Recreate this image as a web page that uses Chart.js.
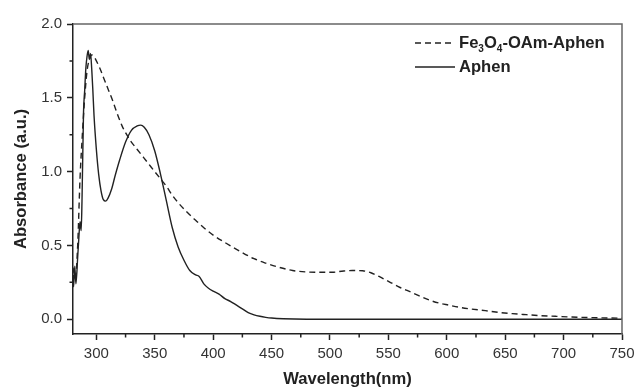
<!DOCTYPE html>
<html>
<head>
<meta charset="utf-8">
<script src="https://cdn.jsdelivr.net/npm/chart.js@4.4.0/dist/chart.umd.min.js"></script>
<style>
  body { margin: 0; background: #fff; }
  canvas { display: block; }
</style>
</head>
<body>
<canvas id="chart" width="634" height="389"></canvas>
<script>
// values (wavelength nm, absorbance a.u.)
const aphenX = [280, 280.5, 281.5, 282.5, 284, 285, 286, 287, 287.7, 289, 290, 291, 292, 293, 294, 295, 296, 297, 298, 300, 302, 304, 306, 308, 310, 313, 316, 320, 325, 330, 335, 338, 341, 345, 350, 355, 360, 365, 370, 375, 380, 385, 388, 392, 396, 400, 405, 410, 415, 420, 425, 430, 435, 440, 445, 450, 460, 480, 750];
const aphenY = [0.3, 0.22, 0.36, 0.24, 0.42, 0.55, 0.66, 0.6, 0.8, 1.4, 1.55, 1.7, 1.78, 1.82, 1.76, 1.8, 1.7, 1.55, 1.38, 1.15, 0.98, 0.87, 0.81, 0.8, 0.82, 0.88, 0.97, 1.08, 1.2, 1.28, 1.31, 1.315, 1.3, 1.25, 1.14, 0.98, 0.8, 0.62, 0.49, 0.4, 0.33, 0.3, 0.29, 0.24, 0.21, 0.19, 0.17, 0.14, 0.12, 0.095, 0.07, 0.045, 0.03, 0.02, 0.013, 0.008, 0.003, 0, 0];

const feX = [280, 282, 284, 286, 288, 290, 292, 294, 296, 298, 300, 303, 306, 310, 314, 318, 322, 326, 330, 335, 340, 345, 350, 355, 360, 365, 370, 377, 385, 392, 400, 410, 423, 435, 445, 455, 468, 480, 491, 502, 510, 519, 528, 535, 542, 548, 554, 560, 566, 576, 585, 593, 602, 610, 620, 633, 645, 656, 668, 679, 693, 707, 725, 741, 750];
const feY = [0.35, 0.28, 0.5, 0.95, 1.25, 1.5, 1.68, 1.76, 1.79, 1.78, 1.75, 1.7, 1.64, 1.56, 1.48, 1.39, 1.31, 1.25, 1.2, 1.15, 1.1, 1.05, 1.0, 0.95, 0.9, 0.84, 0.79, 0.73, 0.67, 0.62, 0.57, 0.52, 0.46, 0.41, 0.38, 0.355, 0.33, 0.32, 0.318, 0.318, 0.325, 0.33, 0.328, 0.315, 0.29, 0.265, 0.24, 0.215, 0.195, 0.16, 0.13, 0.11, 0.095, 0.082, 0.07, 0.058, 0.046, 0.038, 0.031, 0.025, 0.02, 0.015, 0.011, 0.008, 0.007];

const xTicks = [300, 350, 400, 450, 500, 550, 600, 650, 700, 750];
const xMinor = [325, 375, 425, 475, 525, 575, 625, 675, 725];
const yTicks = [0, 0.5, 1.0, 1.5, 2.0];
const yMinor = [0.25, 0.75, 1.25, 1.75];

const toPoints = (xs, ys) => xs.map((x, i) => ({ x: x, y: ys[i] }));

const ink = "#222";

// top/right frame and minor ticks
const framePlugin = {
  id: "frame",
  afterDraw(chart) {
    const ctx = chart.ctx;
    const a = chart.chartArea;
    const xs = chart.scales.x;
    const ys = chart.scales.y;
    ctx.save();
    ctx.strokeStyle = "#666";
    ctx.lineWidth = 1.5;
    ctx.beginPath();
    ctx.moveTo(a.left, a.top);
    ctx.lineTo(a.right, a.top);
    ctx.lineTo(a.right, a.bottom);
    ctx.stroke();
    ctx.strokeStyle = ink;
    ctx.beginPath();
    xMinor.forEach((v) => {
      const px = xs.getPixelForValue(v);
      ctx.moveTo(px, a.bottom);
      ctx.lineTo(px, a.bottom + 3.5);
    });
    yMinor.forEach((v) => {
      const py = ys.getPixelForValue(v);
      ctx.moveTo(a.left, py);
      ctx.lineTo(a.left - 3.5, py);
    });
    ctx.stroke();
    ctx.restore();
  },
};

// legend with subscripts
const legendPlugin = {
  id: "subLegend",
  afterDraw(chart) {
    const ctx = chart.ctx;
    const a = chart.chartArea;
    const x0 = a.right - 207;
    const x1 = x0 + 40;
    const rows = [
      { y: 43, ds: 0, parts: [["Fe", 0], ["3", 1], ["O", 0], ["4", 1], ["-OAm-Aphen", 0]] },
      { y: 67, ds: 1, parts: [["Aphen", 0]] },
    ];
    ctx.save();
    rows.forEach((r) => {
      const ds = chart.data.datasets[r.ds];
      ctx.strokeStyle = ds.borderColor;
      ctx.lineWidth = ds.borderWidth;
      ctx.setLineDash(ds.borderDash || []);
      ctx.beginPath();
      ctx.moveTo(x0, r.y);
      ctx.lineTo(x1, r.y);
      ctx.stroke();
      ctx.setLineDash([]);
      let tx = x1 + 4;
      ctx.fillStyle = ink;
      ctx.textBaseline = "middle";
      r.parts.forEach(([t, sub]) => {
        ctx.font = sub ? "bold 10px 'Liberation Sans', Arial" : "bold 16.6px 'Liberation Sans', Arial";
        ctx.fillText(t, tx, sub ? r.y + 6 : r.y);
        tx += ctx.measureText(t).width;
      });
    });
    ctx.restore();
  },
};

const ctx = document.getElementById("chart").getContext("2d");
const chart = new Chart(ctx, {
  type: "line",
  data: {
    datasets: [
      {
        label: "Fe3O4-OAm-Aphen",
        data: toPoints(feX, feY),
        borderColor: ink,
        borderWidth: 1.4,
        borderDash: [6, 4],
        pointRadius: 0,
        cubicInterpolationMode: "monotone",
      },
      {
        label: "Aphen",
        data: toPoints(aphenX, aphenY),
        borderColor: ink,
        borderWidth: 1.4,
        pointRadius: 0,
        cubicInterpolationMode: "monotone",
      },
    ],
  },
  options: {
    responsive: false,
    animation: false,
    layout: { padding: { top: 24, right: 12, left: 0, bottom: 0 } },
    plugins: { legend: { display: false }, tooltip: { enabled: false } },
    scales: {
      x: {
        type: "linear",
        min: 280,
        max: 750,
        afterBuildTicks: (s) => { s.ticks = xTicks.map((v) => ({ value: v })); },
        afterFit: (s) => {
          s.height = 55;
          s.paddingLeft = 0;
          s.paddingRight = 0;
        },
        grid: { drawOnChartArea: false, tickLength: 6, tickColor: ink, tickWidth: 1.5 },
        border: { color: ink, width: 1.5 },
        ticks: { color: "#333", padding: 5, font: { family: "'Liberation Sans', Arial", size: 15 } },
        title: {
          display: true,
          text: "Wavelength(nm)",
          color: ink,
          padding: { top: 0, bottom: 0 },
          font: { family: "'Liberation Sans', Arial", size: 16.6, weight: "bold" },
        },
      },
      y: {
        min: -0.1,
        max: 2.0,
        afterBuildTicks: (s) => { s.ticks = yTicks.map((v) => ({ value: v })); },
        afterFit: (s) => { s.width = 73; },
        grid: { drawOnChartArea: false, tickLength: 6, tickColor: ink, tickWidth: 1.5 },
        border: { color: ink, width: 1.5 },
        ticks: {
          color: "#333",
          padding: 5,
          font: { family: "'Liberation Sans', Arial", size: 15 },
          callback: (v) => v.toFixed(1),
        },
        title: {
          display: true,
          text: "Absorbance (a.u.)",
          color: ink,
          padding: { top: 11, bottom: 0 },
          font: { family: "'Liberation Sans', Arial", size: 16.6, weight: "bold" },
        },
      },
    },
  },
  plugins: [framePlugin, legendPlugin],
});
</script>
</body>
</html>
